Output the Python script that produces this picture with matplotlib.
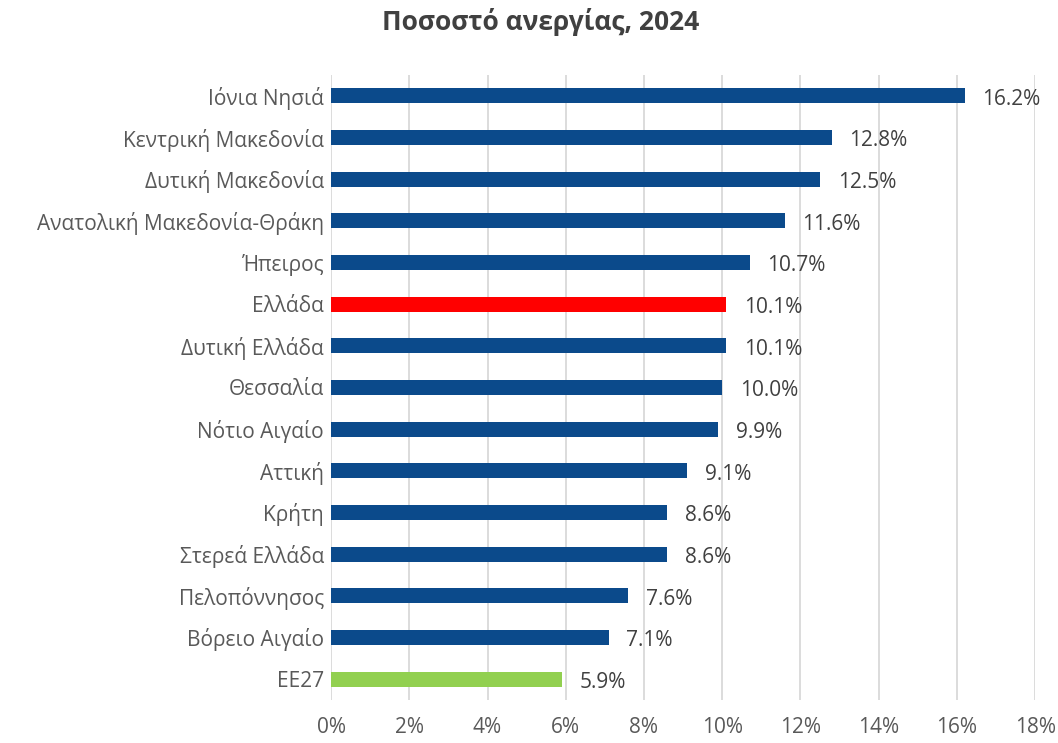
import matplotlib.pyplot as plt
from matplotlib.ticker import FuncFormatter

plt.rcParams['font.family'] = ['Open Sans', 'DejaVu Sans']

regions = ['Ιόνια Νησιά', 'Κεντρική Μακεδονία', 'Δυτική Μακεδονία',
           'Ανατολική Μακεδονία-Θράκη', 'Ήπειρος', 'Ελλάδα', 'Δυτική Ελλάδα',
           'Θεσσαλία', 'Νότιο Αιγαίο', 'Αττική', 'Κρήτη', 'Στερεά Ελλάδα',
           'Πελοπόννησος', 'Βόρειο Αιγαίο', 'ΕΕ27']
rates = [16.2, 12.8, 12.5, 11.6, 10.7, 10.1, 10.1, 10.0, 9.9, 9.1, 8.6, 8.6,
         7.6, 7.1, 5.9]

blue = '#0B4A8B'
colors = []
for r in regions:
    if r == 'Ελλάδα':
        colors.append('#FF0000')
    elif r == 'ΕΕ27':
        colors.append('#92D050')
    else:
        colors.append(blue)

fig = plt.figure(figsize=(10.58, 7.43), dpi=100)
ax = fig.add_axes([0.3129, 0.058, 0.6655, 0.841])

ypos = list(range(len(regions)))
ax.barh(ypos, rates, height=0.36, color=colors, zorder=3)
ax.set_ylim(len(regions) - 0.5, -0.5)
ax.set_xlim(0, 18)
ax.set_xticks(range(0, 19, 2))
ax.xaxis.set_major_formatter(FuncFormatter(lambda v, p: f'{v:.0f}%'))
ax.set_yticks(ypos)
ax.set_yticklabels(regions)

for y, v in zip(ypos, rates):
    ax.text(v + 0.45, y + 0.08, f'{v:.1f}%', va='center', ha='left',
            fontsize=15, color='#404040')

ax.grid(axis='x', color='#D9D9D9', linewidth=1.3, zorder=0)
for s in ax.spines.values():
    s.set_visible(False)
ax.tick_params(axis='both', length=0, labelsize=15, labelcolor='#595959')
ax.tick_params(axis='y', pad=5)
ax.tick_params(axis='x', pad=12)

fig.text(0.511, 0.970, 'Ποσοστό ανεργίας, 2024', ha='center', va='center',
         fontsize=19, fontweight='bold', color='#404040')

fig.savefig('out.png', dpi=100)
